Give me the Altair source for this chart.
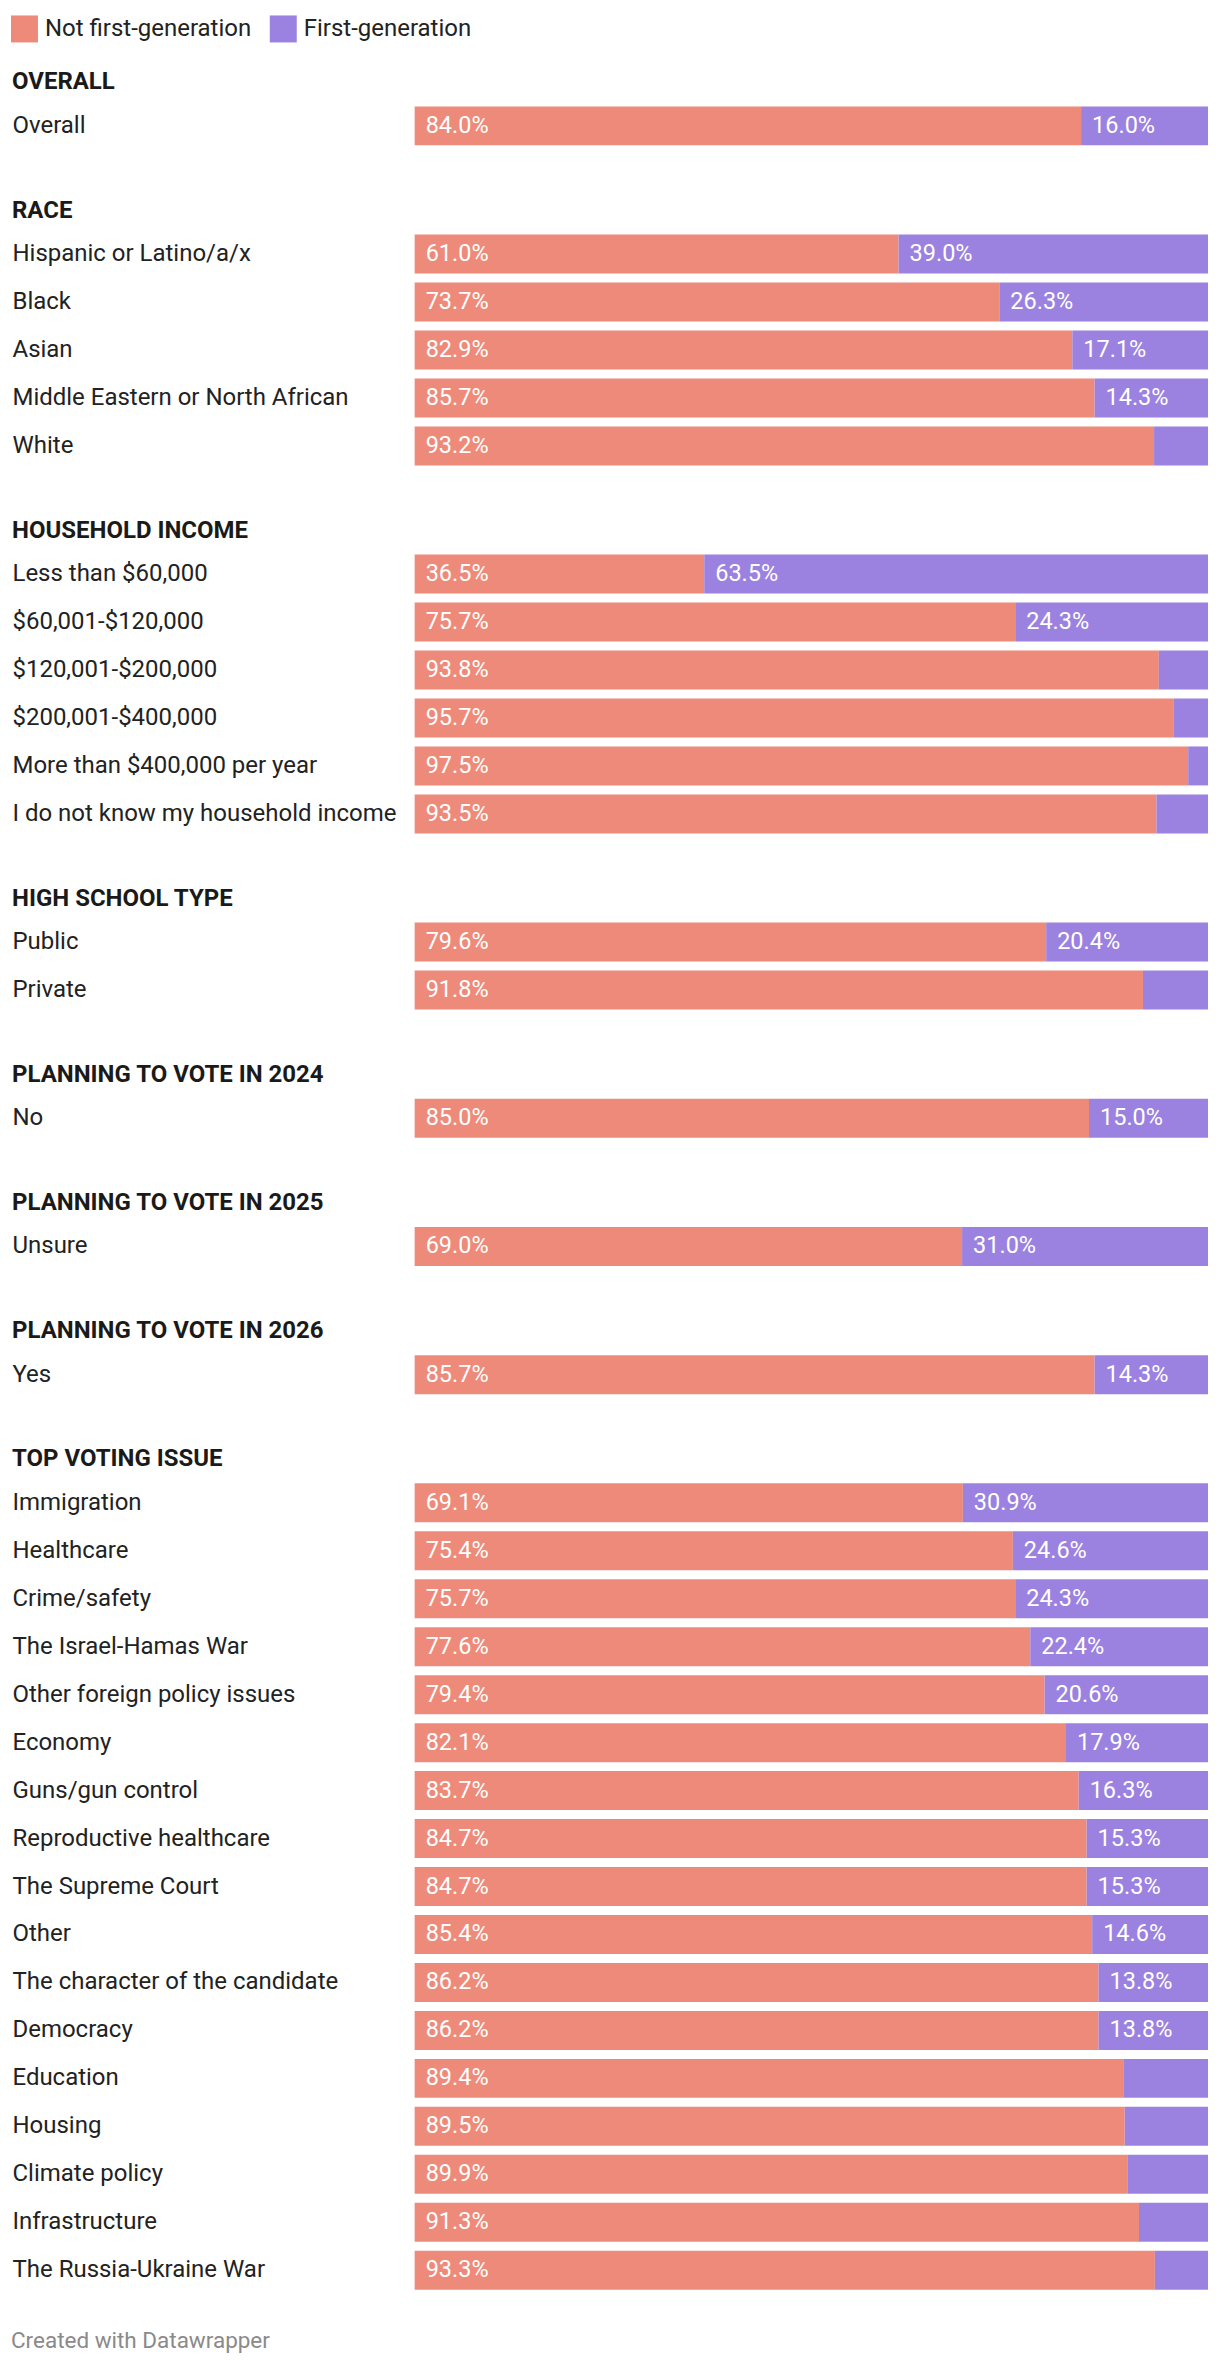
import altair as alt
import pandas as pd

SERIES = ["Not first-generation", "First-generation"]
COLORS = ["#ee8a7a", "#9b82e0"]

section_titles = [
    "OVERALL", "RACE", "HOUSEHOLD INCOME", "HIGH SCHOOL TYPE",
    "PLANNING TO VOTE IN 2024", "PLANNING TO VOTE IN 2025",
    "PLANNING TO VOTE IN 2026", "TOP VOTING ISSUE",
]

overall_labels = ["Overall"]
overall_not = [84.0]
overall_first = [16.0]

race_labels = ["Hispanic or Latino/a/x", "Black", "Asian",
               "Middle Eastern or North African", "White"]
race_not = [61.0, 73.7, 82.9, 85.7, 93.2]
race_first = [39.0, 26.3, 17.1, 14.3, 6.8]

income_labels = ["Less than $60,000", "$60,001-$120,000", "$120,001-$200,000",
                 "$200,001-$400,000", "More than $400,000 per year",
                 "I do not know my household income"]
income_not = [36.5, 75.7, 93.8, 95.7, 97.5, 93.5]
income_first = [63.5, 24.3, 6.2, 4.3, 2.5, 6.5]

school_labels = ["Public", "Private"]
school_not = [79.6, 91.8]
school_first = [20.4, 8.2]

vote24_labels = ["No"]
vote24_not = [85.0]
vote24_first = [15.0]

vote25_labels = ["Unsure"]
vote25_not = [69.0]
vote25_first = [31.0]

vote26_labels = ["Yes"]
vote26_not = [85.7]
vote26_first = [14.3]

issue_labels = ["Immigration", "Healthcare", "Crime/safety", "The Israel-Hamas War",
                "Other foreign policy issues", "Economy", "Guns/gun control",
                "Reproductive healthcare", "The Supreme Court", "Other",
                "The character of the candidate", "Democracy", "Education",
                "Housing", "Climate policy", "Infrastructure", "The Russia-Ukraine War"]
issue_not = [69.1, 75.4, 75.7, 77.6, 79.4, 82.1, 83.7, 84.7, 84.7, 85.4,
             86.2, 86.2, 89.4, 89.5, 89.9, 91.3, 93.3]
issue_first = [30.9, 24.6, 24.3, 22.4, 20.6, 17.9, 16.3, 15.3, 15.3, 14.6,
               13.8, 13.8, 10.6, 10.5, 10.1, 8.7, 6.7]

sections = [
    (section_titles[0], overall_labels, overall_not, overall_first),
    (section_titles[1], race_labels, race_not, race_first),
    (section_titles[2], income_labels, income_not, income_first),
    (section_titles[3], school_labels, school_not, school_first),
    (section_titles[4], vote24_labels, vote24_not, vote24_first),
    (section_titles[5], vote25_labels, vote25_not, vote25_first),
    (section_titles[6], vote26_labels, vote26_not, vote26_first),
    (section_titles[7], issue_labels, issue_not, issue_first),
]

FONT = "Roboto"
FS = 24
VFS = 23.5
STEP = 48


def make_section(title, labels, nf, fg):
    rows = []
    for lab, a, b in zip(labels, nf, fg):
        rows.append({"label": lab, "series": SERIES[0], "value": a,
                     "start": 0.0, "end": a, "order": 0})
        rows.append({"label": lab, "series": SERIES[1], "value": b,
                     "start": a, "end": a + b, "order": 1})
    df = pd.DataFrame(rows)
    df["txt"] = df["value"].map(lambda v: f"{v:.1f}%")
    df["show"] = (df["order"] == 0) | (df["value"] >= 12)

    y = alt.Y("label:N", sort=labels, title=None,
              scale=alt.Scale(paddingInner=0.1875, paddingOuter=0.09375),
              axis=alt.Axis(labelAlign="left", labelPadding=403, ticks=False,
                            domain=False, grid=False, labelFont=FONT,
                            labelFontSize=FS, labelColor="#222222",
                            labelLimit=400, labelBaseline="middle"))
    x = alt.X("start:Q", scale=alt.Scale(domain=[0, 100], nice=False, zero=True),
              axis=None, title=None)
    bars = alt.Chart(df).mark_bar(cornerRadius=0).encode(
        y=y, x=x, x2="end:Q",
        color=alt.Color("series:N",
                        scale=alt.Scale(domain=SERIES, range=COLORS),
                        sort=SERIES,
                        legend=alt.Legend(title=None, orient="none",
                                          direction="horizontal",
                                          legendX=-404, legendY=-86.5,
                                          labelFont=FONT, labelFontSize=FS,
                                          labelColor="#222222", labelLimit=400,
                                          symbolType="square", symbolSize=729,
                                          symbolStrokeWidth=0, symbolOpacity=1,
                                          labelOffset=7, columnPadding=18,
                                          padding=0)),
    )
    text = alt.Chart(df).transform_filter("datum.show").mark_text(
        align="left", baseline="middle", dx=11, color="white",
        font=FONT, fontSize=VFS,
    ).encode(y=y, x=x, text="txt:N")
    return alt.layer(bars, text).properties(
        width=794, height=alt.Step(STEP),
        title=alt.TitleParams(title, anchor="start", font=FONT, fontSize=FS,
                              fontWeight="bold", color="#1a1a1a",
                              baseline="alphabetic", offset=-11.5),
    )


chart = alt.vconcat(
    *[make_section(*s) for s in sections], spacing=48.3
).properties(
    padding={"left": 11, "top": 14, "right": 12, "bottom": 20},
    background="white",
    title=alt.TitleParams("Created with Datawrapper", orient="bottom",
                          anchor="start", font=FONT, fontSize=22.5,
                          fontWeight="normal", color="#8a8a8a",
                          baseline="alphabetic", offset=54),
).configure_view(stroke=None, strokeWidth=0)

chart.save("out.html", embed_options={"renderer": "svg", "actions": False})
